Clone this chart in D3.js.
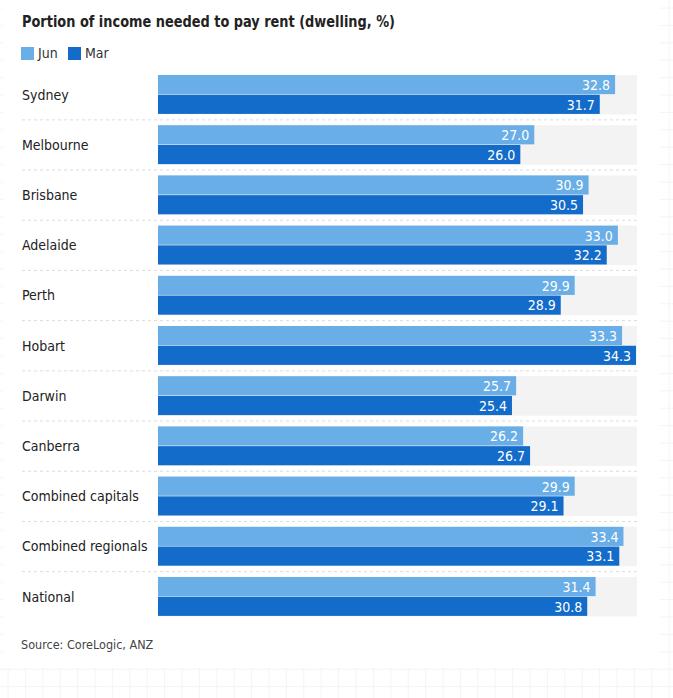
<!DOCTYPE html>
<html><head><meta charset="utf-8">
<script src="https://cdn.jsdelivr.net/npm/d3@7"></script>
<style>
body{margin:0;background:#fff;}
svg{display:block;}
text{font-family:"Liberation Sans Narrow","DejaVu Sans Condensed",Lato,sans-serif;}
</style></head>
<body><svg id="c" width="673" height="698"></svg>
<script>
const categories = ["Sydney","Melbourne","Brisbane","Adelaide","Perth","Hobart","Darwin","Canberra","Combined capitals","Combined regionals","National"];
const series = ["Jun","Mar"];
const junValues = [32.8,27.0,30.9,33.0,29.9,33.3,25.7,26.2,29.9,33.4,31.4];
const marValues = [31.7,26.0,30.5,32.2,28.9,34.3,25.4,26.7,29.1,33.1,30.8];
const colors = {Jun:"#69aee6", Mar:"#136bca"};
const title = "Portion of income needed to pay rent (dwelling, %)";
const source = "Source: CoreLogic, ANZ";

const W = 673, H = 698;
const svg = d3.select("#c");

// faint page grid behind the card
const gridStep = 17.4;
const bg = svg.append("g");
bg.selectAll("line.v").data(d3.range(8, W, gridStep)).join("line").attr("class","v")
  .attr("x1",d=>d).attr("x2",d=>d).attr("y1",0).attr("y2",H).attr("stroke","#f4f4f4");
bg.selectAll("line.h").data(d3.range(8, H, gridStep)).join("line").attr("class","h")
  .attr("y1",d=>d).attr("y2",d=>d).attr("x1",0).attr("x2",W).attr("stroke","#f4f4f4");
svg.append("rect").attr("x",3).attr("y",0).attr("width",657).attr("height",668).attr("fill","#fff");

const values = {Jun: junValues, Mar: marValues};
const maxV = d3.max([...junValues, ...marValues]);
const x = d3.scaleLinear().domain([0, maxV]).range([158, 636]);
const y = d3.scaleBand().domain(categories).range([75, 616.5]).paddingInner(0.213).paddingOuter(0);
const ys = d3.scaleBand().domain(series).range([0, y.bandwidth()]);

svg.append("text").attr("x",22).attr("y",27).attr("font-size",16.5).attr("font-weight","bold").attr("fill","#222")
  .attr("textLength",373).attr("lengthAdjust","spacingAndGlyphs").text(title);

const leg = svg.append("g").selectAll("g").data(series).join("g")
  .attr("transform",(d,i)=>`translate(${[21,68][i]},47)`);
leg.append("rect").attr("width",13).attr("height",13).attr("fill",d=>colors[d]);
leg.append("text").attr("x",17).attr("y",11).attr("font-size",14).attr("fill","#333").text(d=>d);

// separators
svg.append("g").selectAll("line").data(categories.slice(1)).join("line")
  .attr("x1",22).attr("x2",637)
  .attr("y1",d=>y(d)-y.step()*y.paddingInner()/2).attr("y2",d=>y(d)-y.step()*y.paddingInner()/2)
  .attr("stroke","#dcdcdc").attr("stroke-dasharray","3,3");

const rows = svg.append("g").selectAll("g").data(categories).join("g")
  .attr("transform",d=>`translate(0,${y(d)})`);
rows.append("rect").attr("x",x(0)).attr("width",x(maxV)-x(0)+1).attr("height",y.bandwidth()).attr("fill","#f3f3f3");
rows.append("text").attr("x",22).attr("y",y.bandwidth()/2).attr("dy","0.35em").attr("font-size",14).attr("fill","#222").text(d=>d);

rows.each(function(c, ci){
  const g = d3.select(this);
  series.forEach(s=>{
    const v = values[s][ci];
    g.append("rect").attr("x",x(0)).attr("y",ys(s)).attr("width",x(v)-x(0)).attr("height",ys.bandwidth()-0.6).attr("fill",colors[s]);
    g.append("text").attr("x",x(v)-5).attr("y",ys(s)+ys.bandwidth()/2).attr("dy","0.36em")
      .attr("text-anchor","end").attr("font-size",14).attr("fill","#fff").text(v.toFixed(1));
  });
});

svg.append("text").attr("x",21).attr("y",649).attr("font-size",12.5).attr("fill","#444").text(source);
</script></body></html>
